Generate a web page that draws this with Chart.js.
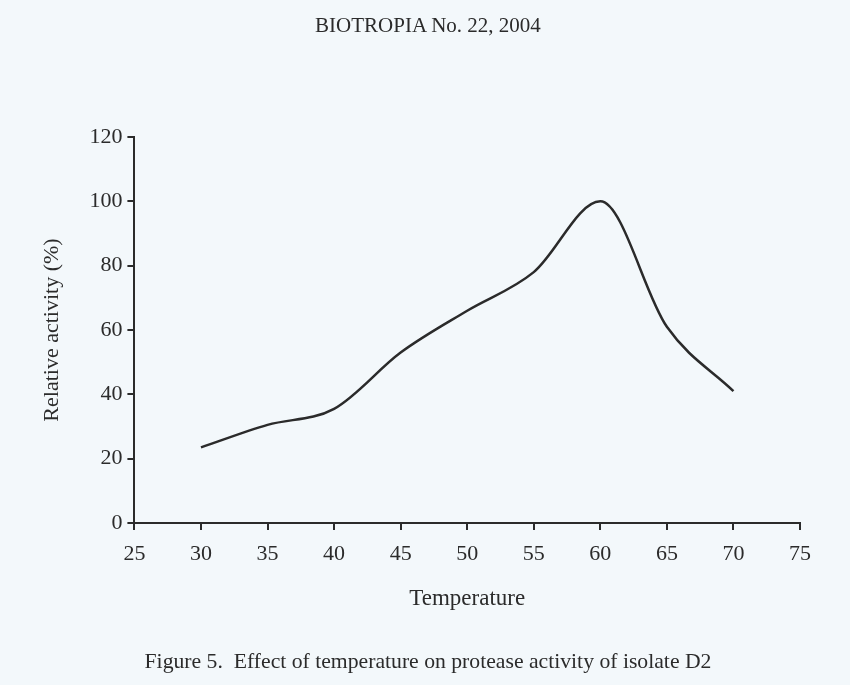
<!DOCTYPE html>
<html>
<head>
<meta charset="utf-8">
<script src="https://cdn.jsdelivr.net/npm/chart.js@4"></script>
<style>
  html, body { margin: 0; padding: 0; background: #f3f8fb; }
  #wrap { width: 850px; height: 685px; position: relative; }
  .note {
    position: absolute; left: 0; width: 856px; text-align: center;
    font-family: "Liberation Serif", "DejaVu Serif", serif; color: #2b2b2b;
    white-space: pre; line-height: 1;
  }
  #header { top: 15px; font-size: 21px; }
  #caption { top: 651px; font-size: 21.7px; }
</style>
</head>
<body>
<div id="wrap">
  <canvas id="tempChart"></canvas>
  <div class="note" id="header">BIOTROPIA No. 22, 2004</div>
  <div class="note" id="caption">Figure 5.  Effect of temperature on protease activity of isolate D2</div>
</div>
<script>
const temperatures = [30, 35, 40, 45, 50, 55, 60, 65, 70]
const relativeActivity = [23.5, 30.5, 35.5, 53, 66, 78, 100, 61, 41]
const xTicks = [25, 30, 35, 40, 45, 50, 55, 60, 65, 70, 75]
const yTicks = [0, 20, 40, 60, 80, 100, 120]

const serif = '"Liberation Serif", "DejaVu Serif", serif'
const ink = '#2b2b2b'

const paperBg = {
    id: 'paperBg',
    beforeDraw(chart) {
        const {ctx, width, height} = chart
        ctx.save()
        ctx.fillStyle = '#f3f8fb'
        ctx.fillRect(0, 0, width, height)
        ctx.restore()
    }
}

const axisStyle = {
    grid: { drawOnChartArea: false, drawTicks: true, tickLength: 7, color: ink, lineWidth: 2 },
    border: { color: ink, width: 2 },
}

document.addEventListener('DOMContentLoaded', () => {
    const ctx = document.getElementById('tempChart').getContext('2d')
    new Chart(ctx, {
        type: 'line',
        data: {
            datasets: [{
                label: 'Relative activity',
                data: temperatures.map((t, i) => ({x: t, y: relativeActivity[i]})),
                borderColor: ink,
                borderWidth: 2.5,
                pointRadius: 0,
                tension: 0.4,
                cubicInterpolationMode: 'monotone',
                fill: false,
            }]
        },
        options: {
            responsive: true,
            maintainAspectRatio: false,
            animation: false,
            layout: { padding: { left: 39, right: 50, top: 137, bottom: 72 } },
            plugins: {
                legend: { display: false },
                tooltip: { enabled: false },
            },
            scales: {
                x: {
                    type: 'linear',
                    min: 25,
                    max: 75,
                    afterBuildTicks: axis => { axis.ticks = xTicks.map(v => ({value: v})) },
                    ticks: { color: ink, font: { family: serif, size: 22 }, padding: 11 },
                    title: { display: true, text: 'Temperature', color: ink, font: { family: serif, size: 23 }, padding: { top: 7, bottom: 0 } },
                    ...axisStyle,
                },
                y: {
                    min: 0,
                    max: 120,
                    afterBuildTicks: axis => { axis.ticks = yTicks.map(v => ({value: v})) },
                    ticks: { color: ink, font: { family: serif, size: 22 }, padding: 5 },
                    title: { display: true, text: 'Relative activity (%)', color: ink, font: { family: serif, size: 22 }, padding: { top: 0, bottom: 19 } },
                    ...axisStyle,
                },
            },
        },
        plugins: [paperBg],
    })
})
</script>
</body>
</html>
